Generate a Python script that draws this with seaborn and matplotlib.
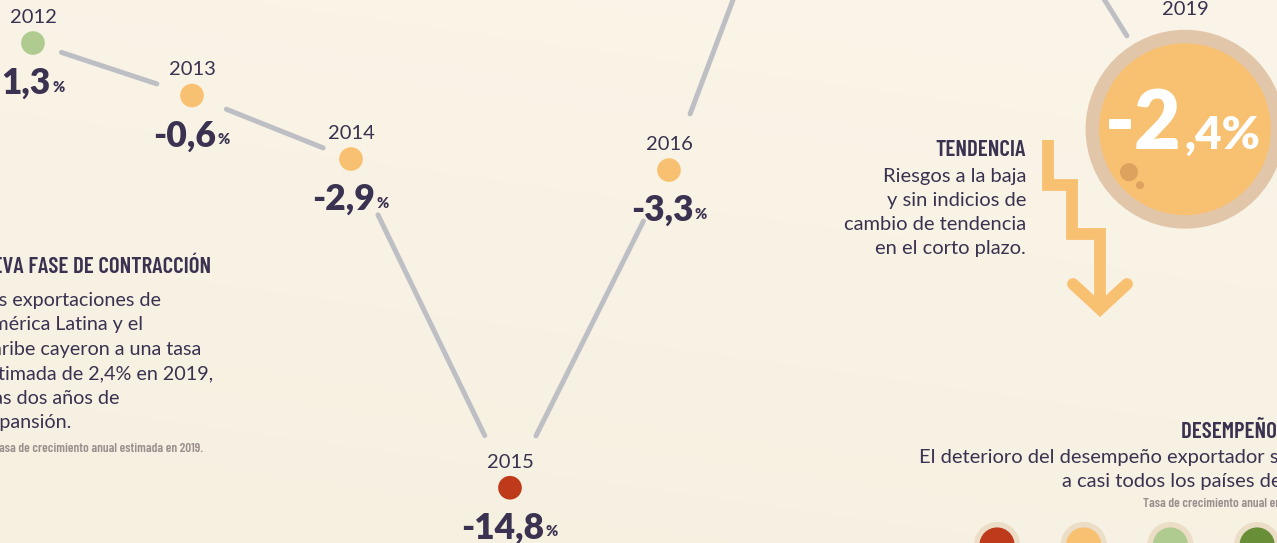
import numpy as np
import pandas as pd
import matplotlib
matplotlib.use("Agg")
import matplotlib.pyplot as plt
import matplotlib.transforms as mtransforms
from matplotlib.colors import to_rgb
import seaborn as sns

# exportaciones de America Latina y el Caribe, tasa de crecimiento anual (%)
years = [2012, 2013, 2014, 2015, 2016, 2017, 2018, 2019]
growth = [1.3, -0.6, -2.9, -14.8, -3.3, 12.0, 9.7, -2.4]

scale_edges = [-np.inf, -5, 0, 5, np.inf]
scale_names = ["menos de -5", "-5 a 0", "0 a 5", "mas de 5"]
scale_colors = ["#BE3A1B", "#F8C172", "#AFCB8F", "#688F38"]

left_title = "NUEVA FASE DE CONTRACCIÓN"
left_lines = ["Las exportaciones de", "América Latina y el", "Caribe cayeron a una tasa",
              "estimada de 2,4% en 2019,", "tras dos años de", "expansión."]
left_note = "Tasa de crecimiento anual estimada en 2019."
trend_title = "TENDENCIA"
trend_lines = ["Riesgos a la baja", "y sin indicios de", "cambio de tendencia", "en el corto plazo."]
perf_title = "DESEMPEÑO POR PAÍSES"
perf_lines = ["El deterioro del desempeño exportador se extendió",
              "a casi todos los países de la región."]
perf_note = "Tasa de crecimiento anual en 2019"

DARK = "#3A3250"
GREY = "#BEBFC4"
NOTE = "#9A8F8E"
W, H, DPI = 1277, 543, 100
YLIM = (-16.80, 2.857)

sns.set_theme(style="white")
plt.rcParams["font.family"] = ["Lato", "DejaVu Sans"]
COND = dict(family=["Barlow Condensed", "DejaVu Sans"], fontweight=600)

df = pd.DataFrame({"year": years, "growth": growth})
df["pos"] = np.arange(len(df), dtype=float)
df["tramo"] = pd.cut(df["growth"], scale_edges, labels=scale_names)
pal = dict(zip(scale_names, scale_colors))


def fpx(x, y):
    # pixel position (from top-left) -> figure fraction
    return x / W, 1 - y / H


fig = plt.figure(figsize=(W / DPI, H / DPI), dpi=DPI)

# soft paper background
bg = fig.add_axes([0, 0, 1, 1], zorder=0)
gy, gx = np.mgrid[0:1:120j, 0:1:240j]
c_top, c_bot = np.array(to_rgb("#FAF5E8")), np.array(to_rgb("#F6F0E1"))
t = np.clip(0.75 * gy + 0.25 * (1 - gx), 0, 1)[..., None]
bg.imshow(c_top * (1 - t) + c_bot * t, extent=(0, 1, 0, 1), aspect="auto",
          interpolation="bicubic")
bg.axis("off")

ax = fig.add_axes([0, 0, 1, 1], zorder=1)
small = df.iloc[:-1]
sns.scatterplot(data=small, x="pos", y="growth", hue="tramo", palette=pal,
                s=290, edgecolor="none", legend=False, ax=ax, zorder=3)
ax.set_xlim(-0.2075, 7.824)
ax.set_ylim(*YLIM)
ax.set_autoscale_on(False)
ax.axis("off")

ident = mtransforms.IdentityTransform()
disp = ax.transData.transform(df[["pos", "growth"]].values)
disp[-1] += (39, 16)  # highlighted 2019 bubble sits a little right/up

# connecting segments with gaps around the labels
gaps = [(30, 37), (37, 30), (62, 58), (58, 57), (60, 60), (60, 60), (60, 110)]
for i, (g0, g1) in enumerate(gaps):
    a, b = disp[i], disp[i + 1]
    u = (b - a) / np.hypot(*(b - a))
    p0, p1 = a + u * g0, b - u * g1
    ax.plot([p0[0], p1[0]], [p0[1], p1[1]], transform=ident, color=GREY,
            lw=3.6, solid_capstyle="round", zorder=2)

# year + value labels for the small points inside the frame
shown = small[small["growth"].between(*YLIM)]
for i, row in shown.iterrows():
    xy = (row["pos"], row["growth"])
    ax.annotate(str(row["year"]), xy, xytext=(0, 18.5), textcoords="offset points",
                ha="center", va="center", fontsize=14.5, color=DARK)
    txt = f"{row['growth']:.1f}".replace(".", ",")
    num = ax.annotate(txt, xy, xytext=(-5, -29), textcoords="offset points",
                      ha="center", va="center", fontsize=25.5, color=DARK, fontweight="heavy")
    ax.annotate("%", xy=(1, 0), xycoords=num, xytext=(1, 4.5), textcoords="offset points",
                ha="left", va="bottom", fontsize=10.5, color=DARK, fontweight="heavy")

# 2019 highlighted bubble
hx, hy = disp[-1]
last = df.iloc[-1]
ax.scatter([hx], [hy], s=20500, color="#E2C6A9", edgecolor="none", transform=ident, zorder=3)
ax.scatter([hx], [hy], s=15300, color=pal[last["tramo"]], edgecolor="none",
           transform=ident, zorder=4)
ax.scatter([hx - 56, hx - 45], [hy - 43, hy - 56], s=[170, 34], color="#DDA35E",
           edgecolor="none", transform=ident, zorder=5)
ax.annotate(str(last["year"]), (hx, hy), xycoords=ident, xytext=(0, 86),
            textcoords="offset points", ha="center", va="center", fontsize=14.5, color=DARK)
ipart, dpart = f"{last['growth']:.1f}".split(".")
ax.annotate(ipart, (hx, hy), xycoords=ident, xytext=(-2.5, -14), textcoords="offset points",
            ha="right", va="baseline", fontsize=58, color="white", fontweight="heavy", zorder=6)
ax.annotate("," + dpart + "%", (hx, hy), xycoords=ident, xytext=(0, -14),
            textcoords="offset points", ha="left", va="baseline", fontsize=33,
            color="white", fontweight="heavy", zorder=6)

# left text block (cut by the frame)
fig.text(*fpx(211, 267), left_title, ha="right", va="center", fontsize=16.5, color=DARK, **COND)
fig.text(*fpx(-21, 292), "\n".join(left_lines), ha="left", va="top", fontsize=14.2,
         linespacing=1.53, color=DARK)
fig.text(*fpx(203, 449), left_note, ha="right", va="center", fontsize=9.5, color=NOTE, **COND)

# tendencia block
fig.text(*fpx(1026, 150), trend_title, ha="right", va="center", fontsize=16.5, color=DARK, **COND)
fig.text(*fpx(1026, 168), "\n".join(trend_lines), ha="right", va="top", fontsize=14.5,
         linespacing=1.5, color=DARK)

# zig-zag arrow
zz = [(1048, 140), (1048, 185), (1072, 185), (1072, 234), (1100, 234), (1100, 308)]
zx, zy = zip(*[fpx(x, y) for x, y in zz])
ax.plot(zx, zy, transform=fig.transFigure, color="#F8C172", lw=8.5,
        solid_joinstyle="miter", solid_capstyle="butt", zorder=2)
hx_, hy_ = zip(*[fpx(x, y) for x, y in [(1073, 284), (1100, 309), (1127, 284)]])
ax.plot(hx_, hy_, transform=fig.transFigure, color="#F8C172", lw=8.5,
        solid_joinstyle="miter", zorder=2)

# desempeño block
fig.text(*fpx(1181, 431), perf_title, ha="left", va="center", fontsize=16.5, color=DARK, **COND)
fig.text(*fpx(919, 458), perf_lines[0], ha="left", va="center", fontsize=14.5, color=DARK)
fig.text(*fpx(1062, 482), perf_lines[1], ha="left", va="center", fontsize=14.5, color=DARK)
fig.text(*fpx(1143, 504), perf_note, ha="left", va="center", fontsize=9.5, color=NOTE, **COND)

sx = [fpx(997 + 86.7 * k, 545)[0] for k in range(len(scale_colors))]
sy = [fpx(0, 545)[1]] * len(scale_colors)
ax.scatter(sx, sy, s=1100, color="#EBDDC6", edgecolor="none", transform=fig.transFigure, zorder=3)
ax.scatter(sx, sy, s=640, color=scale_colors, edgecolor="none", transform=fig.transFigure, zorder=4)

fig.savefig("out.png", dpi=DPI)
